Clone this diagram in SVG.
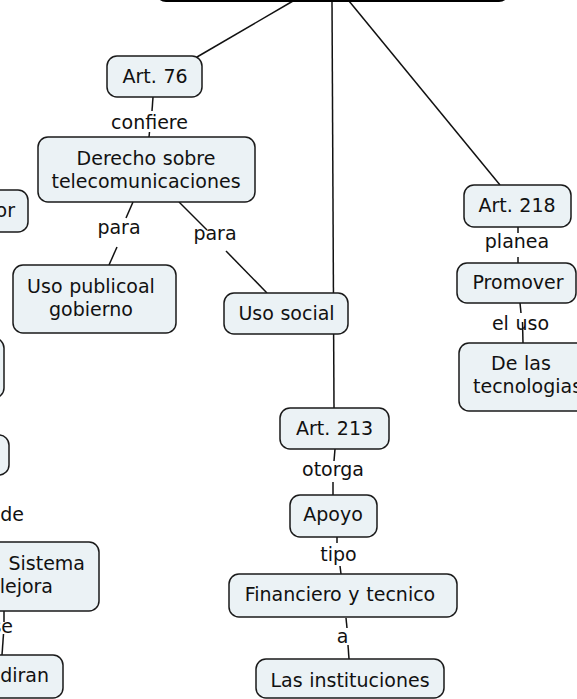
<svg xmlns="http://www.w3.org/2000/svg" width="577" height="699" viewBox="0 0 577 699">
<style>
.n{fill:#ebf2f5;stroke:#1a1a1a;stroke-width:1.5}
.root{fill:#ebf2f5;stroke:#000;stroke-width:2.2}
text{font-family:"DejaVu Sans","Verdana",sans-serif;font-size:19px;word-spacing:0.6px;fill:#111}
.c{text-anchor:middle}
.e{text-anchor:end}
.ln{stroke:#111;stroke-width:1.5;fill:none}
</style>
<rect width="577" height="699" fill="#fff"/>
<g id="connectors">
<line class="ln" x1="293" y1="1" x2="197" y2="57"/>
<line class="ln" x1="332" y1="1" x2="334" y2="408"/>
<line class="ln" x1="349" y1="1" x2="500" y2="185"/>
<line class="ln" x1="153" y1="97" x2="152" y2="111"/>
<line class="ln" x1="149.5" y1="132" x2="149" y2="137"/>
<line class="ln" x1="133" y1="202" x2="126" y2="218"/>
<line class="ln" x1="117" y1="247" x2="109" y2="265"/>
<line class="ln" x1="179" y1="202" x2="207" y2="230"/>
<line class="ln" x1="226" y1="251" x2="267" y2="293"/>
<line class="ln" x1="335" y1="449" x2="334" y2="461"/>
<line class="ln" x1="333" y1="482" x2="333" y2="495"/>
<line class="ln" x1="337" y1="537" x2="337" y2="543"/>
<line class="ln" x1="340" y1="566" x2="341" y2="574"/>
<line class="ln" x1="346" y1="618" x2="347" y2="628"/>
<line class="ln" x1="348" y1="645" x2="349" y2="659"/>
<line class="ln" x1="518" y1="227" x2="518" y2="233"/>
<line class="ln" x1="518" y1="257" x2="518" y2="263"/>
<line class="ln" x1="520" y1="303" x2="521" y2="313"/>
<line class="ln" x1="522.5" y1="322" x2="523" y2="343"/>
<line class="ln" x1="4" y1="611" x2="4" y2="622"/>
<line class="ln" x1="3.5" y1="634" x2="2" y2="655"/>
</g>
<g id="root"><rect class="root" x="157" y="-40" width="351" height="41" rx="9"/></g>
<g id="art76"><rect class="n" x="107" y="56" width="95" height="41" rx="10"/><text class="c" x="155" y="83">Art. 76</text></g>
<g id="derecho"><rect class="n" x="38" y="137" width="217" height="65" rx="10"/><text class="c" x="146" y="165">Derecho sobre</text><text class="c" x="146" y="188">telecomunicaciones</text></g>
<g id="usopublico"><rect class="n" x="13" y="265" width="163" height="68" rx="10"/><text class="c" x="91" y="293">Uso publicoal</text><text class="c" x="91" y="316">gobierno</text></g>
<g id="usosocial"><rect class="n" x="224" y="293" width="124" height="41" rx="10"/><text class="c" x="286.5" y="320">Uso social</text></g>
<g id="art213"><rect class="n" x="280" y="408" width="109" height="41" rx="10"/><text class="c" x="334.5" y="435">Art. 213</text></g>
<g id="apoyo"><rect class="n" x="290" y="495" width="87" height="42" rx="10"/><text class="c" x="333" y="521">Apoyo</text></g>
<g id="financiero"><rect class="n" x="229" y="574" width="228" height="43" rx="10"/><text class="c" x="340" y="601">Financiero y tecnico</text></g>
<g id="instituciones"><rect class="n" x="256" y="659" width="188" height="39" rx="10"/><text class="c" x="350" y="687">Las instituciones</text></g>
<g id="art218"><rect class="n" x="464" y="185" width="107" height="42" rx="10"/><text class="c" x="517" y="212">Art. 218</text></g>
<g id="promover"><rect class="n" x="457" y="263" width="119" height="40" rx="10"/><text class="c" x="518" y="289">Promover</text></g>
<g id="tecnologias"><rect class="n" x="459" y="343" width="130" height="68" rx="10"/><text class="c" x="521" y="370">De las</text><text x="473" y="393">tecnologias</text></g>
<g id="node-or"><rect class="n" x="-60" y="190" width="88" height="42" rx="10"/><text class="e" x="15" y="217">or</text></g>
<g id="node-left2"><rect class="n" x="-100" y="338" width="104" height="60" rx="10"/></g>
<g id="node-left3"><rect class="n" x="-100" y="435" width="109" height="40" rx="10"/></g>
<g id="node-sistema"><rect class="n" x="-100" y="542" width="199" height="69" rx="10"/><text class="e" x="85" y="570">Sistema</text><text class="e" x="53" y="593">lejora</text></g>
<g id="node-diran"><rect class="n" x="-60" y="655" width="123" height="43" rx="10"/><text class="e" x="49" y="682">diran</text></g>
<g id="labels">
<text class="c" x="149.5" y="129">confiere</text>
<text class="c" x="119" y="234">para</text>
<text class="c" x="215" y="240">para</text>
<text class="c" x="333" y="476">otorga</text>
<text class="c" x="338.5" y="561">tipo</text>
<text class="c" x="342.5" y="643">a</text>
<text class="c" x="517" y="248">planea</text>
<text class="c" x="520.5" y="330">el uso</text>
<text class="e" x="24" y="521">de</text>
<text class="e" x="13" y="633">se</text>
</g>
</svg>
